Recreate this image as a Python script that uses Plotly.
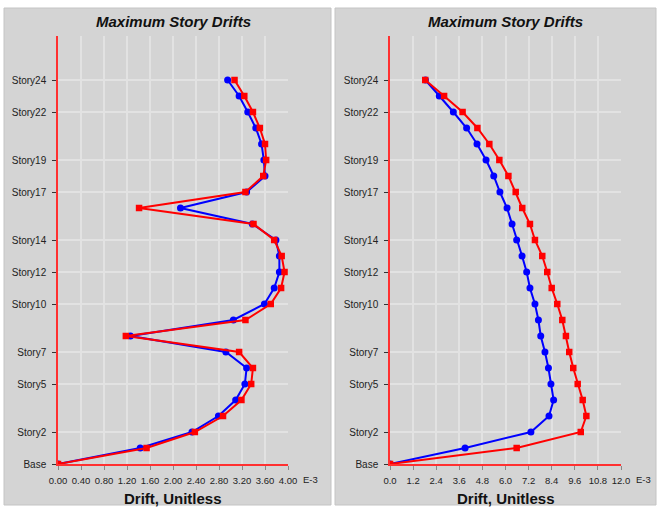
import plotly.graph_objects as go

W, H = 660, 509

# Story levels (Base = 0 ... Story24 = 24)
stories = ["Base"] + [f"Story{i}" for i in range(1, 25)]
levels = list(range(25))
tick_levels = [0, 2, 5, 7, 10, 12, 14, 17, 19, 22, 24]
tick_labels = [stories[i] for i in tick_levels]

# Maximum story drifts, in units of 1E-3
left_blue = [0, 1.43, 2.33, 2.79, 3.09, 3.25, 3.28, 2.92, 1.26, 3.05, 3.59, 3.76, 3.85,
             3.85, 3.79, 3.38, 2.13, 3.28, 3.60, 3.58, 3.54, 3.44, 3.30, 3.15, 2.95]
left_red = [0, 1.54, 2.38, 2.87, 3.19, 3.36, 3.39, 3.15, 1.18, 3.26, 3.70, 3.88, 3.94,
            3.89, 3.76, 3.40, 1.41, 3.26, 3.57, 3.62, 3.60, 3.51, 3.39, 3.24, 3.07]
right_blue = [0, 3.90, 7.32, 8.26, 8.50, 8.36, 8.23, 8.05, 7.83, 7.71, 7.53, 7.27, 7.10,
              6.86, 6.58, 6.34, 6.08, 5.71, 5.39, 4.99, 4.52, 3.98, 3.29, 2.56, 1.84]
right_red = [0, 6.58, 9.91, 10.20, 10.01, 9.75, 9.52, 9.31, 9.14, 8.95, 8.69, 8.40, 8.17,
             7.91, 7.53, 7.27, 6.87, 6.53, 6.15, 5.68, 5.16, 4.54, 3.77, 2.81, 1.83]

FONT = "Arial, Liberation Sans, sans-serif"
BLUE = "#0000FF"
RED = "#FF0000"
PANEL = "#D4D4D4"


def px_x(p):
    return p / W


def px_y(p):
    return 1 - p / H


fig = go.Figure()


def add_series(x, xa, ya, color, symbol, size):
    fig.add_trace(go.Scatter(
        x=x, y=levels, xaxis=xa, yaxis=ya, mode="lines+markers",
        line=dict(color=color, width=2),
        marker=dict(symbol=symbol, size=size, color=color),
        showlegend=False, hoverinfo="x+y"))


add_series(left_blue, "x", "y", BLUE, "circle", 7)
add_series(left_red, "x", "y", RED, "square", 6.5)
add_series(right_blue, "x2", "y2", BLUE, "circle", 7)
add_series(right_red, "x2", "y2", RED, "square", 6.5)

# plot-area geometry (pixels)
top, bottom = 36, 464
left_dom = (58, 288)
right_dom = (390, 621)

xcommon = dict(
    showgrid=True, gridcolor="#E2E2E2", gridwidth=1.5,
    showline=True, linecolor="#FF3030", linewidth=1.5,
    ticks="outside", ticklen=4, tickcolor="#888888",
    tickfont=dict(family=FONT, size=9.5, color="#222222"),
    ticklabelstandoff=3, zeroline=False, fixedrange=True, automargin=False,
)
ycommon = dict(
    range=[0, 26.75], tickvals=tick_levels, ticktext=tick_labels,
    showgrid=True, gridcolor="#E2E2E2", gridwidth=1.5,
    showline=True, linecolor="#FF3030", linewidth=1.5,
    ticks="outside", ticklen=4, tickcolor="#333333",
    tickfont=dict(family=FONT, size=10, color="#222222"),
    ticklabelstandoff=4, zeroline=False, fixedrange=True, automargin=False,
)

ydom = [px_y(bottom), px_y(top)]
fig.update_layout(
    width=W, height=H, margin=dict(l=0, r=0, t=0, b=0, autoexpand=False),
    paper_bgcolor="white", plot_bgcolor="white",
    xaxis=dict(domain=[px_x(left_dom[0]), px_x(left_dom[1])], range=[0, 4.0],
               tick0=0, dtick=0.4, tickformat=".2f", anchor="y", **xcommon),
    yaxis=dict(domain=ydom, anchor="x", **ycommon),
    xaxis2=dict(domain=[px_x(right_dom[0]), px_x(right_dom[1])], range=[0, 12.0],
                tick0=0, dtick=1.2, tickformat=".1f", anchor="y2", **xcommon),
    yaxis2=dict(domain=ydom, anchor="x2", **ycommon),
)

# gray panels behind each chart
for x0, x1 in [(4, 331), (335, 656)]:
    fig.add_shape(type="rect", xref="paper", yref="paper",
                  x0=px_x(x0), x1=px_x(x1), y0=px_y(505), y1=px_y(8),
                  fillcolor=PANEL, line=dict(color="#C4C4C4", width=1), layer="below")

# titles, axis titles and exponent labels
for dom in (left_dom, right_dom):
    cx = px_x((dom[0] + dom[1]) / 2)
    fig.add_annotation(text="<b><i>Maximum Story Drifts</i></b>", xref="paper", yref="paper",
                       x=cx, y=px_y(21), showarrow=False, xanchor="center", yanchor="middle",
                       font=dict(family=FONT, size=15, color="#111111"))
    fig.add_annotation(text="<b>Drift, Unitless</b>", xref="paper", yref="paper",
                       x=cx, y=px_y(498), showarrow=False, xanchor="center", yanchor="middle",
                       font=dict(family=FONT, size=15, color="#111111"))
    fig.add_annotation(text="E-3", xref="paper", yref="paper",
                       x=px_x(dom[1] + 13), y=px_y(479), showarrow=False,
                       xanchor="left", yanchor="middle",
                       font=dict(family=FONT, size=9.5, color="#222222"))

fig.write_html(
    "out.html",
    post_script="document.body.style.margin='0';document.body.style.overflow='hidden';",
)
